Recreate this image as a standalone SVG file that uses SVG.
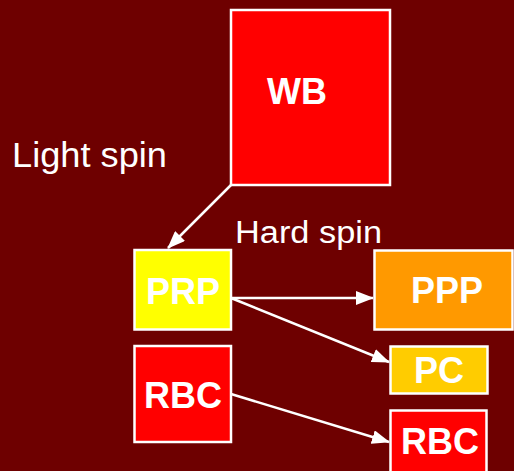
<svg xmlns="http://www.w3.org/2000/svg" width="514" height="471" viewBox="0 0 514 471">
<defs>
<style>
.box{stroke:#fff;stroke-width:2.5}
.lbl{font-family:"Liberation Sans",Arial,sans-serif;font-weight:bold;font-size:36px;fill:#fff;text-anchor:middle}
.note{font-family:"Liberation Sans",Arial,sans-serif;fill:#fff}
.edge{stroke:#fff;stroke-width:2.5;fill:none;marker-end:url(#ah)}
</style>
<marker id="ah" viewBox="0 0 18 14" refX="17" refY="7" markerWidth="18" markerHeight="14" markerUnits="userSpaceOnUse" orient="auto">
<path d="M0,0 L18,7 L0,14 Z" fill="#fff"/>
</marker>
</defs>
<rect width="514" height="471" fill="#6E0000"/>
<text class="note" x="12" y="167" font-size="35" textLength="155" lengthAdjust="spacingAndGlyphs">Light spin</text>
<text class="note" x="235" y="243" font-size="31" textLength="147" lengthAdjust="spacingAndGlyphs">Hard spin</text>
<g id="connectors">
<line class="edge" x1="231" y1="185" x2="168" y2="248"/>
<line class="edge" x1="231" y1="298" x2="373" y2="298"/>
<line class="edge" x1="231" y1="298" x2="389" y2="362"/>
<line class="edge" x1="231" y1="394" x2="389" y2="442"/>
</g>
<g id="WB"><rect class="box" x="231" y="10" width="159" height="175" fill="#FF0000"/><text class="lbl" x="297" y="104">WB</text></g>
<g id="PRP"><rect class="box" x="134.5" y="250" width="96.5" height="79.5" fill="#FFFF00"/><text class="lbl" x="183" y="304">PRP</text></g>
<g id="RBC1"><rect class="box" x="134.5" y="346" width="96.5" height="96" fill="#FF0000"/><text class="lbl" x="183" y="408">RBC</text></g>
<g id="PPP"><rect class="box" x="374.5" y="250.5" width="138" height="79" fill="#FF9900"/><text class="lbl" x="447" y="303">PPP</text></g>
<g id="PC"><rect class="box" x="390.5" y="346.5" width="97" height="47" fill="#FFCC00"/><text class="lbl" x="439" y="383">PC</text></g>
<g id="RBC2"><rect class="box" x="390.5" y="410.5" width="96" height="70" fill="#FF0000"/><text class="lbl" x="440" y="454">RBC</text></g>
</svg>
